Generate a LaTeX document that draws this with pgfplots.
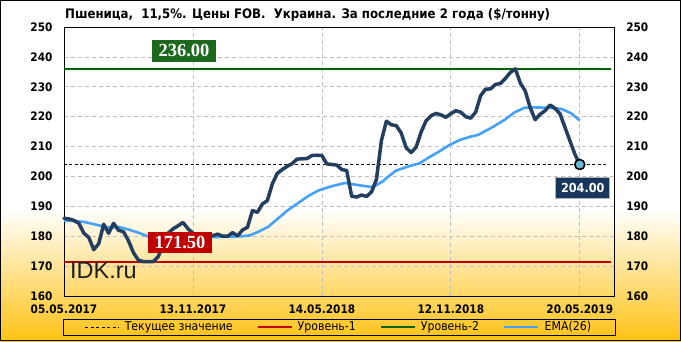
\documentclass[border=0pt]{standalone}
\usepackage{fontspec}
\setmainfont{DejaVu Sans Condensed}
\newfontfamily\serifb{Liberation Serif}
\newfontfamily\arialf{Liberation Sans}
\usepackage{pgfplots}
\usepackage{pgfplotstable}
\pgfplotsset{compat=1.18}
\definecolor{navyline}{RGB}{36,62,96}
\definecolor{emablue}{RGB}{69,162,247}
\definecolor{lvlred}{RGB}{192,0,0}
\definecolor{lvlgreen}{RGB}{0,100,0}
\definecolor{boxgreen}{RGB}{28,104,28}
\definecolor{boxnavy}{RGB}{23,54,93}
\definecolor{gold}{RGB}{255,194,20}
\definecolor{gridgray}{RGB}{192,192,192}
\definecolor{markblue}{RGB}{100,185,215}

\pgfplotstableread{
x y
0 186.0
1 185.8
2 185.3
3 184.3
4 181.0
5 179.6
6 175.5
7 177.5
8 184.0
9 181.0
10 184.3
11 182.0
12 181.5
13 178.5
14 174.5
15 172.0
16 171.5
17 171.5
18 171.5
19 173.2
20 177.0
21 181.0
22 182.5
23 183.5
24 184.6
25 182.5
26 181.0
27 180.0
28 179.8
29 179.8
30 180.2
31 180.7
32 180.0
33 180.0
34 181.2
35 180.1
36 182.1
37 183.0
38 188.6
39 188.0
40 190.8
41 191.9
42 197.5
43 201.0
44 202.3
45 203.4
46 204.3
47 205.8
48 205.9
49 206.0
50 207.0
51 207.1
52 207.0
53 204.2
54 204.0
55 203.8
56 202.3
57 202.0
58 193.4
59 193.1
60 193.8
61 193.3
62 194.8
63 199.0
64 212.0
65 218.5
66 217.3
67 217.0
68 214.5
69 209.6
70 208.0
71 209.8
72 214.8
73 218.6
74 220.3
75 221.1
76 220.6
77 219.8
78 221.0
79 222.0
80 221.5
81 220.0
82 219.5
83 221.5
84 227.0
85 229.2
86 229.3
87 230.8
88 231.1
89 232.8
90 234.8
91 236.0
92 231.3
93 228.6
94 223.0
95 219.0
96 220.8
97 222.0
98 223.9
99 222.8
100 221.0
101 216.5
102 212.0
103 207.5
104 204.0
}\pricedata

\pgfplotstableread{
x y
0 185.2
2 185.1
4 184.8
6.6 183.8
8.6 183.0
11.3 183.0
13.3 182.1
15.3 181.0
17 179.9
20 179.4
24 179.4
28 179.6
32 179.8
36 180.0
37.5 180.3
39.2 181.5
41.2 183.2
43.2 186.0
45.2 188.8
47.3 191.2
49.3 193.5
51.3 195.3
53.9 196.7
56.6 197.8
59 197.2
62.3 196.4
64.4 198.5
65.1 199.6
67 202.0
69.7 203.5
71.7 204.4
73.8 206.6
75.1 207.8
77.8 210.6
79.8 212.2
81.9 213.3
83.5 213.9
86.2 216.3
88.8 218.9
90.9 221.5
92.9 223.0
94.9 223.1
97.6 223.0
100.3 222.6
102.3 221.1
104 218.7
}\emadata

\begin{document}
\begin{tikzpicture}[x=1pt,y=1pt]
\fill[white] (0,0) rectangle (681,341);
\shade[top color=white, bottom color=gold] (0,0) rectangle (681,132);
\draw[black, line width=1pt] (0.5,0.5) rectangle (680.5,340.5);

\node[anchor=west, inner sep=0pt, font=\bfseries\fontsize{13.1}{15}\selectfont] at (65,326) {Пшеница,~~11,5\%. Цены FOB.~~Украина. За последние 2 года (\$/тонну)};

\draw[black, line width=0.8pt] (63,6) rectangle (615,22);

\begin{axis}[
  at={(64pt,45pt)}, anchor=south west,
  scale only axis, width=550pt, height=269pt,
  xmin=0, xmax=110.9, ymin=160, ymax=250,
  xtick={0,26,52,78,104},
  xticklabels={05.05.2017,13.11.2017,14.05.2018,12.11.2018,20.05.2019},
  ytick={160,170,...,250},
  major tick length=0pt,
  grid=major,
  major grid style={gridgray, dash pattern=on 4pt off 3pt, line width=0.7pt},
  axis line style={black, line width=0.8pt},
  /pgf/number format/assume math mode=true,
  tick label style={font=\bfseries\fontsize{11.7}{12}\selectfont},
  yticklabel style={xshift=-8pt},
  xticklabel style={yshift=-5pt},
  clip=false,
  legend style={at={(0.5,-0.1152)}, anchor=center, draw=none, fill=none,
    legend columns=4, font=\fontsize{12.2}{13}\selectfont,
    /tikz/every even column/.append style={column sep=22pt},
    inner sep=0pt},
  legend image code/.code={\draw[#1] (0pt,0pt) -- (34pt,0pt); \path (37pt,0pt);},
  legend cell align=left,
]
\addplot[black, line width=0.9pt, dash pattern=on 3pt off 2.5pt] coordinates {(0,204) (109.7,204)};
\addlegendentry{Текущее значение}
\addplot[lvlred, line width=2pt] coordinates {(0,171.5) (110.3,171.5)};
\addlegendentry{Уровень-1}
\addplot[lvlgreen, line width=2pt] coordinates {(0,236) (110.3,236)};
\addlegendentry{Уровень-2}
\addplot[emablue, line width=2.6pt, line join=round] table[x=x,y=y] {\emadata};
\addlegendentry{EMA(26)}
\addplot[navyline, line width=3.5pt, line join=round, line cap=round, forget plot] table[x=x,y=y] {\pricedata};
\addplot[only marks, mark=*, mark size=5pt, mark options={fill=markblue, draw=black, line width=1.6pt}, forget plot] coordinates {(104,204)};

\node[fill=boxgreen, text=white, font=\serifb\bfseries\fontsize{18.5}{19}\selectfont, minimum width=64pt, minimum height=22pt, inner sep=0pt] at (axis cs:24.2,242.1) {236.00};
\node[fill=lvlred, text=white, font=\serifb\bfseries\fontsize{18.5}{19}\selectfont, minimum width=63.4pt, minimum height=21.6pt, inner sep=0pt] at (axis cs:23.4,177.9) {171.50};
\node[fill=boxnavy, draw=gray!60, line width=0.6pt, text=white, font=\bfseries\fontsize{12.5}{13}\selectfont, minimum width=54pt, minimum height=20.6pt, inner sep=0pt] at (axis cs:104.6,196.2) {204.00};
\end{axis}

\begin{axis}[
  at={(64pt,45pt)}, anchor=south west,
  scale only axis, width=550pt, height=269pt,
  xmin=0, xmax=110.9, ymin=160, ymax=250,
  axis x line=none, axis y line*=right,
  axis line style={draw=none},
  ytick={160,170,...,250},
  major tick length=0pt,
  /pgf/number format/assume math mode=true,
  tick label style={font=\bfseries\fontsize{11.7}{12}\selectfont},
  yticklabel style={xshift=8.8pt},
]
\addplot[draw=none, forget plot] coordinates {(0,200)};
\end{axis}

\node[anchor=base west, inner sep=0pt, font=\arialf\fontsize{23.5}{24}\selectfont, text=black!88] at (70,63) {IDK.ru};
\end{tikzpicture}
\end{document}
